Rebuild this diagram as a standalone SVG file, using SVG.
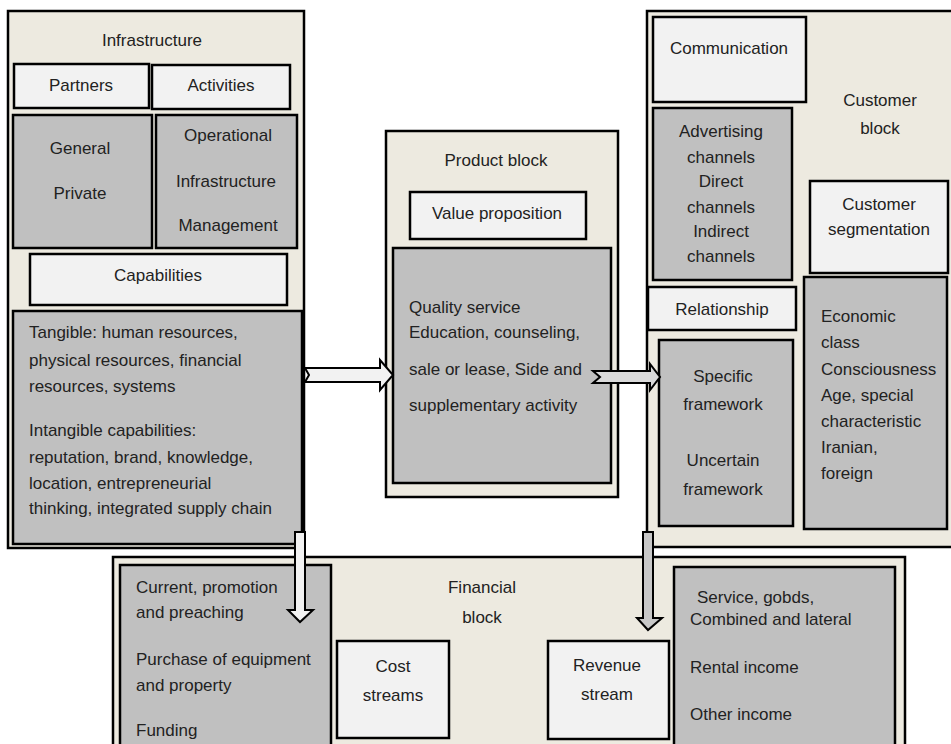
<svg xmlns="http://www.w3.org/2000/svg" width="951" height="744" viewBox="0 0 951 744">
<style>
.blk{fill:#edeae0;stroke:#000;stroke-width:2.5}
.lt{fill:#f2f2f2;stroke:#000;stroke-width:2.5}
.gr{fill:#c0c0c0;stroke:#000;stroke-width:2.5}
text{font-family:"Liberation Sans",Arial,sans-serif;font-size:17px;fill:#222}
.c{text-anchor:middle}
.arr{stroke:#000;stroke-width:2;stroke-linejoin:miter}
</style>
<rect width="951" height="744" fill="#fff"/>
<g id="infrastructure-block">
<rect class="blk" x="8" y="11" width="296" height="537"/>
<text class="c" x="152" y="46">Infrastructure</text>
</g>
<g id="partners"><rect class="lt" x="14" y="64" width="135" height="44"/><text class="c" x="81" y="91">Partners</text></g>
<g id="activities"><rect class="lt" x="152" y="65" width="138" height="44"/><text class="c" x="221" y="91">Activities</text></g>
<g id="general"><rect class="gr" x="13" y="115" width="139" height="133"/><text class="c" x="80" y="154">General</text><text class="c" x="80" y="199">Private</text></g>
<g id="operational"><rect class="gr" x="156" y="115" width="141" height="133"/><text class="c" x="228" y="141">Operational</text><text class="c" x="226" y="187">Infrastructure</text><text class="c" x="228" y="231">Management</text></g>
<g id="capabilities"><rect class="lt" x="30" y="254" width="257" height="51"/><text class="c" x="158" y="281">Capabilities</text></g>
<g id="tangible"><rect class="gr" x="13" y="311" width="289" height="233"/>
<text x="29" y="338">Tangible: human resources,</text>
<text x="29" y="366">physical resources, financial</text>
<text x="29" y="392">resources, systems</text>
<text x="29" y="436">Intangible capabilities:</text>
<text x="29" y="463">reputation, brand, knowledge,</text>
<text x="29" y="489">location, entrepreneurial</text>
<text x="29" y="514">thinking, integrated supply chain</text>
</g>
<g id="product-block"><rect class="blk" x="386" y="131" width="232" height="366"/><text class="c" x="496" y="166">Product block</text></g>
<g id="value-proposition"><rect class="lt" x="410" y="192" width="176" height="47"/><text class="c" x="497" y="219">Value proposition</text></g>
<g id="quality"><rect class="gr" x="393" y="248" width="218" height="235"/>
<text x="409" y="313">Quality service</text>
<text x="409" y="338">Education, counseling,</text>
<text x="409" y="375">sale or lease, Side and</text>
<text x="409" y="411">supplementary activity</text>
</g>
<g id="customer-block"><rect class="blk" x="647" y="11" width="310" height="536"/><text class="c" x="880" y="106">Customer</text><text class="c" x="880" y="134">block</text></g>
<g id="communication"><rect class="lt" x="653" y="17" width="153" height="85"/><text class="c" x="729" y="54">Communication</text></g>
<g id="channels"><rect class="gr" x="653" y="108" width="139" height="172"/>
<text class="c" x="721" y="137">Advertising</text>
<text class="c" x="721" y="163">channels</text>
<text class="c" x="721" y="187">Direct</text>
<text class="c" x="721" y="213">channels</text>
<text class="c" x="721" y="237">Indirect</text>
<text class="c" x="721" y="262">channels</text>
</g>
<g id="segmentation"><rect class="lt" x="810" y="181" width="138" height="92"/><text class="c" x="879" y="210">Customer</text><text class="c" x="879" y="235">segmentation</text></g>
<g id="economic"><rect class="gr" x="804" y="277" width="143" height="252"/>
<text x="821" y="322">Economic</text>
<text x="821" y="348">class</text>
<text x="821" y="375">Consciousness</text>
<text x="821" y="401">Age, special</text>
<text x="821" y="427">characteristic</text>
<text x="821" y="453">Iranian,</text>
<text x="821" y="479">foreign</text>
</g>
<g id="relationship"><rect class="lt" x="648" y="287" width="148" height="43"/><text class="c" x="722" y="315">Relationship</text></g>
<g id="framework"><rect class="gr" x="659" y="340" width="134" height="186"/>
<text class="c" x="723" y="382">Specific</text>
<text class="c" x="723" y="410">framework</text>
<text class="c" x="723" y="466">Uncertain</text>
<text class="c" x="723" y="495">framework</text>
</g>
<g id="financial-block"><rect class="blk" x="113" y="557" width="792" height="200"/><text class="c" x="482" y="593">Financial</text><text class="c" x="482" y="623">block</text></g>
<g id="costs"><rect class="gr" x="120" y="565" width="211" height="190"/>
<text x="136" y="593">Current, promotion</text>
<text x="136" y="618">and preaching</text>
<text x="136" y="665">Purchase of equipment</text>
<text x="136" y="691">and property</text>
<text x="136" y="736">Funding</text>
</g>
<g id="cost-streams"><rect class="lt" x="337" y="641" width="112" height="97"/><text class="c" x="393" y="672">Cost</text><text class="c" x="393" y="701">streams</text></g>
<g id="revenue-stream"><rect class="lt" x="548" y="641" width="121" height="98"/><text class="c" x="607" y="671">Revenue</text><text class="c" x="607" y="700">stream</text></g>
<g id="revenues"><rect class="gr" x="674" y="567" width="221" height="190"/>
<text x="697" y="603">Service, gobds,</text>
<text x="690" y="625">Combined and lateral</text>
<text x="690" y="673">Rental income</text>
<text x="690" y="720">Other income</text>
</g>
<g id="connectors">
<path class="arr" fill="#f2f2f2" d="M305,368 L380,368 L380,360 L393,375 L380,390 L380,382 L305,382 L309,375 Z"/>
<path class="arr" fill="#d9d9d9" d="M593,371 L650,371 L650,364 L660,377 L650,390 L650,383 L593,383 L600,377 Z"/>
<path class="arr" fill="#f2f2f2" d="M295,532 L305,532 L305,610 L313,610 L300,622 L288,610 L295,610 Z"/>
<path class="arr" fill="#c8c8c8" d="M643,532 L653,532 L653,618 L662,618 L648,630 L637,618 L643,618 Z"/>
</g>
</svg>
